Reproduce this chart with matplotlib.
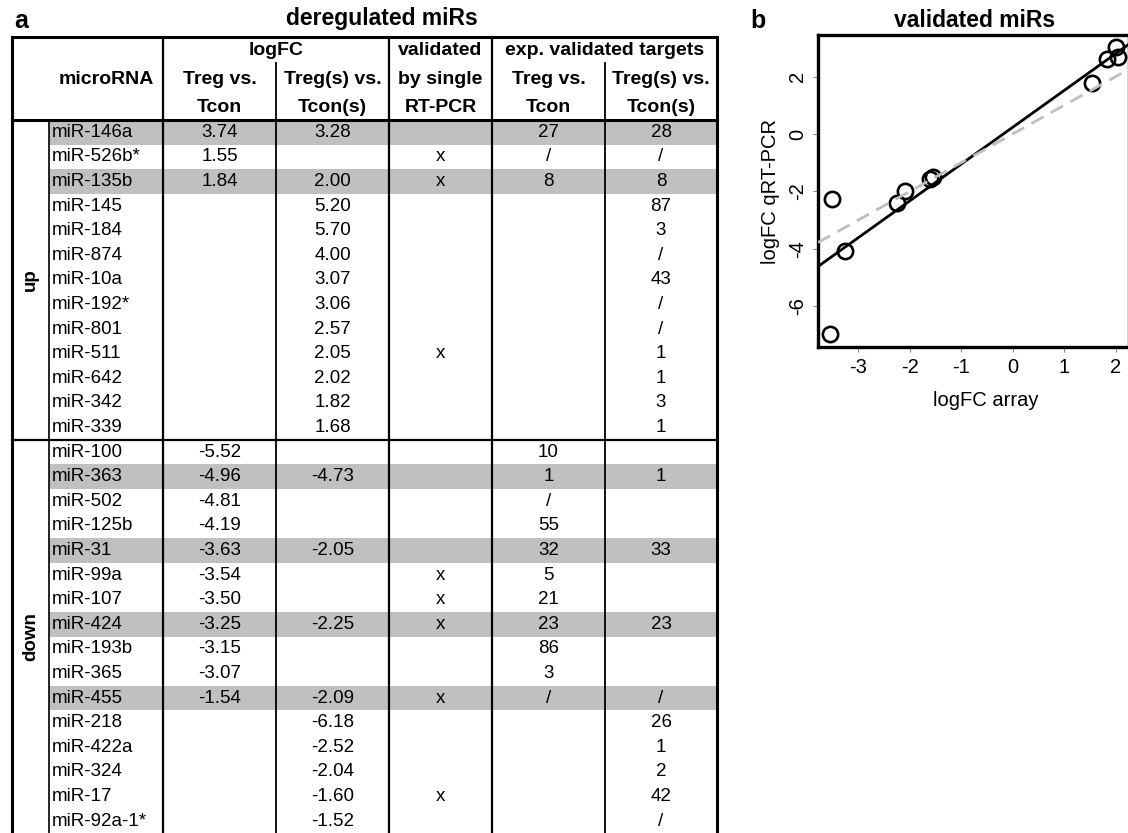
import numpy as np
import matplotlib.pyplot as plt

plt.rcParams['font.family'] = ['Liberation Sans', 'DejaVu Sans']
plt.rcParams['axes.unicode_minus'] = False

W, H = 1128, 833

# ---- panel a: deregulated miRs ----
up_names = ['miR-146a', 'miR-526b*', 'miR-135b', 'miR-145', 'miR-184', 'miR-874', 'miR-10a',
            'miR-192*', 'miR-801', 'miR-511', 'miR-642', 'miR-342', 'miR-339']
up_fc_treg = ['3.74', '1.55', '1.84', '', '', '', '', '', '', '', '', '', '']
up_fc_tregs = ['3.28', '', '2.00', '5.20', '5.70', '4.00', '3.07', '3.06', '2.57', '2.05', '2.02', '1.82', '1.68']
up_valid = ['', 'x', 'x', '', '', '', '', '', '', 'x', '', '', '']
up_tgt_treg = ['27', '/', '8', '', '', '', '', '', '', '', '', '', '']
up_tgt_tregs = ['28', '/', '8', '87', '3', '/', '43', '/', '/', '1', '1', '3', '1']

down_names = ['miR-100', 'miR-363', 'miR-502', 'miR-125b', 'miR-31', 'miR-99a', 'miR-107', 'miR-424',
              'miR-193b', 'miR-365', 'miR-455', 'miR-218', 'miR-422a', 'miR-324', 'miR-17', 'miR-92a-1*']
down_fc_treg = ['-5.52', '-4.96', '-4.81', '-4.19', '-3.63', '-3.54', '-3.50', '-3.25', '-3.15', '-3.07',
                '-1.54', '', '', '', '', '']
down_fc_tregs = ['', '-4.73', '', '', '-2.05', '', '', '-2.25', '', '', '-2.09', '-6.18', '-2.52',
                 '-2.04', '-1.60', '-1.52']
down_valid = ['', '', '', '', '', 'x', 'x', 'x', '', '', 'x', '', '', '', 'x', '']
down_tgt_treg = ['10', '1', '/', '55', '32', '5', '21', '23', '86', '3', '/', '', '', '', '', '']
down_tgt_tregs = ['', '1', '', '', '33', '', '', '23', '', '', '/', '26', '1', '2', '42', '/']

# ---- panel b: validated miRs ----
arr_x = [1.55, 1.84, 2.00, 2.05, -3.54, -3.50, -3.25, -2.25, -2.09, -1.60, -1.54]
pcr_y = [1.77, 2.60, 3.04, 2.67, -6.97, -2.28, -4.07, -2.39, -1.97, -1.58, -1.50]

fig = plt.figure(figsize=(W / 100, H / 100), dpi=100)

# table drawn in pixel space
tab = fig.add_axes([0, 0, 1, 1])
tab.set_xlim(0, W)
tab.set_ylim(H, 0)
tab.axis('off')

x_left, x_grp, x_name, x_split1, x_val, x_tgt, x_split2, x_right = 12, 49, 163, 276, 389, 492, 605, 717
y_top, y_head, row_h = 37, 120, 24.6
centers = [(x_name + x_split1) / 2, (x_split1 + x_val) / 2, (x_val + x_tgt) / 2,
           (x_tgt + x_split2) / 2, (x_split2 + x_right) / 2]
fs = 13.5

groups = [('up', up_names, [up_fc_treg, up_fc_tregs, up_valid, up_tgt_treg, up_tgt_tregs]),
          ('down', down_names, [down_fc_treg, down_fc_tregs, down_valid, down_tgt_treg, down_tgt_tregs])]

y = y_head
for label, names, cols in groups:
    y0 = y
    for i, name in enumerate(names):
        yc = y + row_h / 2
        if cols[0][i] and cols[1][i]:
            tab.add_patch(plt.Rectangle((x_grp, y), x_right - x_grp, row_h, color='#c0c0c0', lw=0, zorder=0))
        tab.text(x_grp + 3, yc, name, ha='left', va='center', fontsize=fs)
        for cx, col in zip(centers, cols):
            if col[i]:
                tab.text(cx, yc, col[i], ha='center', va='center', fontsize=fs)
        y += row_h
    tab.text((x_left + x_grp) / 2, (y0 + min(y, H)) / 2, label, rotation=90, ha='center', va='center',
             fontsize=fs, fontweight='bold')
    if y < H - 2:
        tab.plot([x_left, x_right], [y, y], color='black', lw=1.6)
y_bot = H + 5

# header
hb = dict(ha='center', va='center', fontsize=14, fontweight='bold')
tab.text((x_grp + x_name) / 2, 79, 'microRNA', **hb)
tab.text((x_name + x_val) / 2, 50, 'logFC', **hb)
tab.text(centers[0], 79, 'Treg vs.', **hb)
tab.text(centers[0], 107, 'Tcon', **hb)
tab.text(centers[1], 79, 'Treg(s) vs.', **hb)
tab.text(centers[1], 107, 'Tcon(s)', **hb)
tab.text(centers[2], 50, 'validated', **hb)
tab.text(centers[2], 79, 'by single', **hb)
tab.text(centers[2], 107, 'RT-PCR', **hb)
tab.text((x_tgt + x_right) / 2, 50, 'exp. validated targets', **hb)
tab.text(centers[3], 79, 'Treg vs.', **hb)
tab.text(centers[3], 107, 'Tcon', **hb)
tab.text(centers[4], 79, 'Treg(s) vs.', **hb)
tab.text(centers[4], 107, 'Tcon(s)', **hb)

# grid lines
tab.plot([x_left, x_right], [y_top, y_top], color='black', lw=2.2)
tab.plot([x_left, x_right], [y_head, y_head], color='black', lw=2.2)
for xv in [x_left, x_right]:
    tab.plot([xv, xv], [y_top, y_bot], color='black', lw=2.2)
for xv in [x_name, x_val, x_tgt]:
    tab.plot([xv, xv], [y_top, y_bot], color='black', lw=1.6)
for xv in [x_split1, x_split2]:
    tab.plot([xv, xv], [63, y_bot], color='black', lw=1.3)
tab.plot([x_grp, x_grp], [y_head, y_bot], color='black', lw=1.2)

tab.text(21, 28, 'a', ha='center', va='baseline', fontsize=18, fontweight='bold')
tab.text(382, 25, 'deregulated miRs', ha='center', va='baseline', fontsize=16.5, fontweight='bold')
tab.text(758, 28, 'b', ha='center', va='baseline', fontsize=18, fontweight='bold')
tab.text(975, 27, 'validated miRs', ha='center', va='baseline', fontsize=16.5, fontweight='bold')
tab.text(770, 191, 'logFC qRT-PCR', rotation=90, ha='center', va='center', fontsize=14.5)
tab.text(986, 400, 'logFC array', ha='center', va='center', fontsize=14.5)

# scatter
ax = fig.add_axes([818 / W, 1 - 347 / H, (1129 - 818) / W, (347 - 35) / H])
ax.set_xlim(-3.78, 2.26)
ax.set_ylim(-7.42, 3.45)
ax.plot(arr_x, pcr_y, 'o', mfc='none', mec='black', ms=11, mew=1.9, zorder=2)
slope, icpt = np.polyfit(arr_x, pcr_y, 1)
xs = np.array(ax.get_xlim())
ax.plot(xs, slope * xs + icpt, color='black', lw=2, zorder=3)
ax.plot(xs, xs, color='#bebebe', lw=2, dashes=(5, 3), zorder=3)
ax.set_xticks([-3, -2, -1, 0, 1, 2])
ax.set_yticks([-6, -4, -2, 0, 2])
for s in ax.spines.values():
    s.set_linewidth(2.4)
ax.tick_params(length=3.6, width=0.8, color='#888888', labelsize=14.5, pad=4)
ax.tick_params(axis='y', labelrotation=90)
for t in ax.get_yticklabels():
    t.set_va('center')

fig.savefig('out.png', dpi=100)
